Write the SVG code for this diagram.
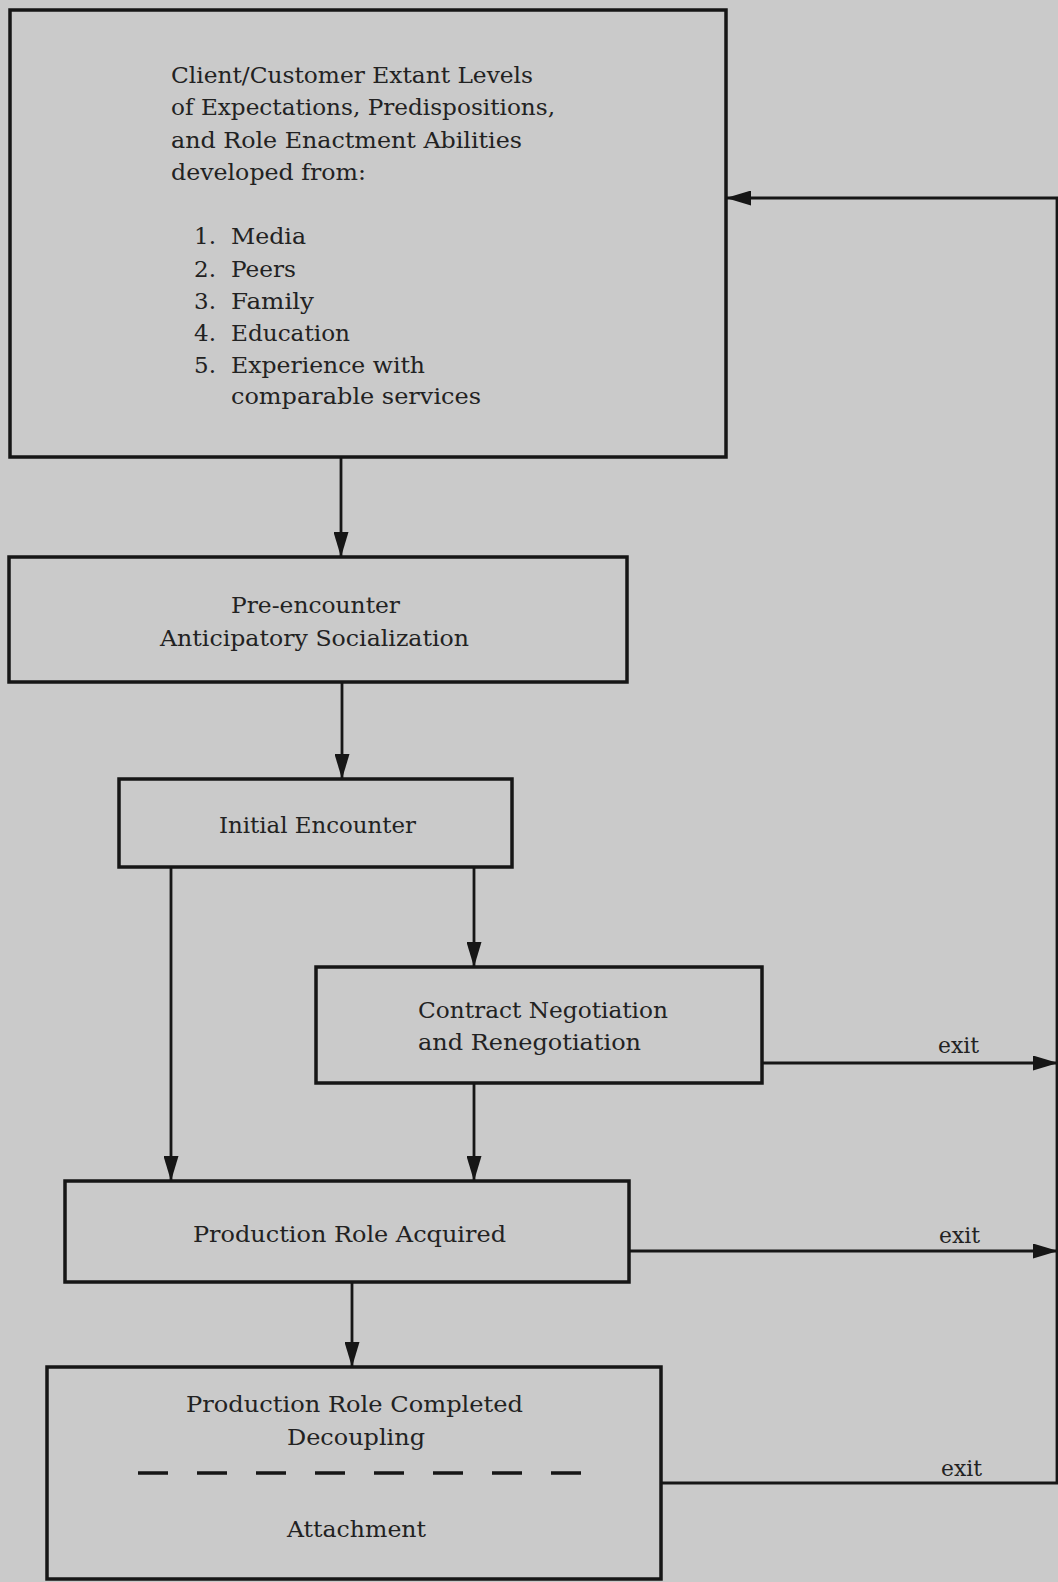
<svg xmlns="http://www.w3.org/2000/svg" width="1058" height="1582" viewBox="0 0 1058 1582">
<defs>
<style>
.bg{fill:#cacaca}
.box{fill:none;stroke:#161616;stroke-width:3.5}
.conn{fill:none;stroke:#161616;stroke-width:2.8}
.dash{fill:none;stroke:#161616;stroke-width:3.5;stroke-dasharray:30 29}
text{font-family:"DejaVu Serif","Liberation Serif",serif;font-size:23px;fill:#222222}
</style>
<marker id="ah" markerUnits="userSpaceOnUse" markerWidth="26" markerHeight="15" refX="25" refY="7.5" orient="auto">
<path d="M0,0 L25,7.5 L0,15 Z" fill="#161616"/>
</marker>
</defs>
<rect class="bg" x="0" y="0" width="1058" height="1582"/>

<g id="connectors">
<path class="conn" d="M341,457 V557" marker-end="url(#ah)"/>
<path class="conn" d="M342,682 V779" marker-end="url(#ah)"/>
<path class="conn" d="M171,867 V1181" marker-end="url(#ah)"/>
<path class="conn" d="M474,867 V967" marker-end="url(#ah)"/>
<path class="conn" d="M474,1083 V1181" marker-end="url(#ah)"/>
<path class="conn" d="M352,1282 V1367" marker-end="url(#ah)"/>
<path class="conn" d="M762,1063 H1058" marker-end="url(#ah)"/>
<text x="938" y="1053" textLength="41" lengthAdjust="spacingAndGlyphs">exit</text>
<path class="conn" d="M629,1251 H1058" marker-end="url(#ah)"/>
<text x="939" y="1243" textLength="41" lengthAdjust="spacingAndGlyphs">exit</text>
<path class="conn" d="M661,1483 H1057 V198 H726" marker-end="url(#ah)"/>
<text x="941" y="1476" textLength="41" lengthAdjust="spacingAndGlyphs">exit</text>
</g>

<g id="node-client">
<rect class="box" x="10" y="10" width="716" height="447"/>
<text x="171" y="83" textLength="362" lengthAdjust="spacingAndGlyphs">Client/Customer Extant Levels</text>
<text x="171" y="115" textLength="384" lengthAdjust="spacingAndGlyphs">of Expectations, Predispositions,</text>
<text x="171" y="148" textLength="351" lengthAdjust="spacingAndGlyphs">and Role Enactment Abilities</text>
<text x="171" y="180" textLength="195" lengthAdjust="spacingAndGlyphs">developed from:</text>
<text x="216" y="244" text-anchor="end">1.</text>
<text x="231" y="244" textLength="75" lengthAdjust="spacingAndGlyphs">Media</text>
<text x="216" y="277" text-anchor="end">2.</text>
<text x="231" y="277" textLength="65" lengthAdjust="spacingAndGlyphs">Peers</text>
<text x="216" y="309" text-anchor="end">3.</text>
<text x="231" y="309" textLength="83" lengthAdjust="spacingAndGlyphs">Family</text>
<text x="216" y="341" text-anchor="end">4.</text>
<text x="231" y="341" textLength="119" lengthAdjust="spacingAndGlyphs">Education</text>
<text x="216" y="373" text-anchor="end">5.</text>
<text x="231" y="373" textLength="194" lengthAdjust="spacingAndGlyphs">Experience with</text>
<text x="231" y="404" textLength="250" lengthAdjust="spacingAndGlyphs">comparable services</text>
</g>

<g id="node-preencounter">
<rect class="box" x="9" y="557" width="618" height="125"/>
<text x="231" y="613" textLength="169" lengthAdjust="spacingAndGlyphs">Pre-encounter</text>
<text x="160" y="646" textLength="309" lengthAdjust="spacingAndGlyphs">Anticipatory Socialization</text>
</g>

<g id="node-initial">
<rect class="box" x="119" y="779" width="393" height="88"/>
<text x="219" y="833" textLength="197" lengthAdjust="spacingAndGlyphs">Initial Encounter</text>
</g>

<g id="node-contract">
<rect class="box" x="316" y="967" width="446" height="116"/>
<text x="418" y="1018" textLength="250" lengthAdjust="spacingAndGlyphs">Contract Negotiation</text>
<text x="418" y="1050" textLength="223" lengthAdjust="spacingAndGlyphs">and Renegotiation</text>
</g>

<g id="node-acquired">
<rect class="box" x="65" y="1181" width="564" height="101"/>
<text x="193" y="1242" textLength="313" lengthAdjust="spacingAndGlyphs">Production Role Acquired</text>
</g>

<g id="node-completed">
<rect class="box" x="47" y="1367" width="614" height="212"/>
<text x="186" y="1412" textLength="337" lengthAdjust="spacingAndGlyphs">Production Role Completed</text>
<text x="287" y="1445" textLength="138" lengthAdjust="spacingAndGlyphs">Decoupling</text>
<path class="dash" d="M138,1473 H582"/>
<text x="287" y="1537" textLength="139" lengthAdjust="spacingAndGlyphs">Attachment</text>
</g>
</svg>
